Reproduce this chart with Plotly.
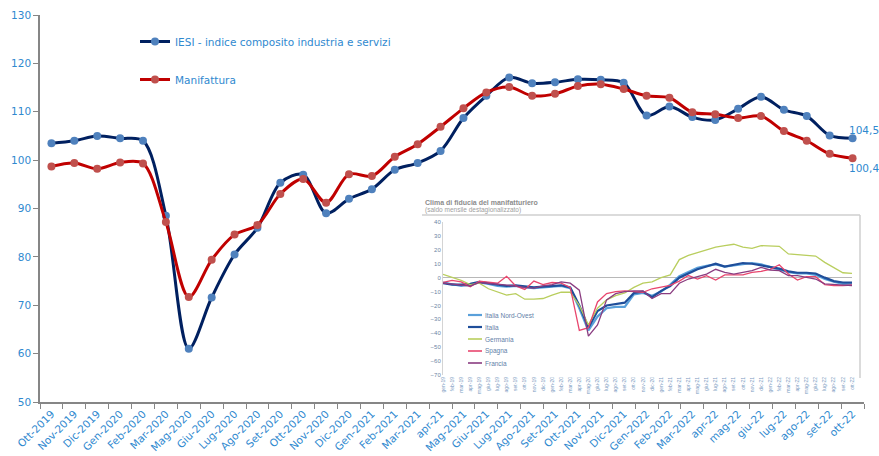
import plotly.graph_objects as go

# ---------------- main chart data ----------------
months = ["Ott-2019", "Nov-2019", "Dic-2019", "Gen-2020", "Feb-2020", "Mar-2020",
          "Mag-2020", "Giu-2020", "Lug-2020", "Ago-2020", "Set-2020", "Ott-2020",
          "Nov-2020", "Dic-2020", "Gen-2021", "Feb-2021", "Mar-2021", "apr-21",
          "Mag-2021", "Giu-2021", "Lug-2021", "Ago-2021", "Set-2021", "Ott-2021",
          "Nov-2021", "Dic-2021", "Gen-2022", "Feb-2022", "Mar-2022", "apr-22",
          "mag-22", "giu-22", "lug-22", "ago-22", "set-22", "ott-22"]

iesi = [103.5, 104.0, 105.0, 104.5, 104.0, 88.5, 61.0, 71.6, 80.5, 86.0, 95.3, 97.0,
        89.0, 92.0, 94.0, 98.0, 99.4, 101.9, 108.7, 113.3, 117.1, 115.9, 116.1, 116.7,
        116.6, 116.0, 109.2, 111.1, 108.9, 108.3, 110.6, 113.1, 110.4, 109.1, 105.1, 104.5]

manifattura = [98.7, 99.4, 98.2, 99.5, 99.3, 87.2, 71.7, 79.4, 84.6, 86.6, 93.0, 96.1,
               91.2, 97.1, 96.7, 100.7, 103.3, 106.9, 110.7, 114.0, 115.1, 113.3, 113.7, 115.3,
               115.7, 114.7, 113.3, 112.9, 109.9, 109.5, 108.7, 109.1, 106.0, 104.0, 101.3, 100.4]

end_labels = ["104,5", "100,4"]

# ---------------- inset chart data ----------------
inset_months = ["gen", "feb", "mar", "apr", "mag", "giu", "lug", "ago", "set", "ott", "nov", "dic"]
inset_labels = [m + "-" + y for y in ["19", "20", "21", "22"] for m in inset_months][:46]

italia_no = [-3.5, -4.5, -6, -5, -3.5, -4.5, -6, -6.5, -6, -7, -7.5, -7, -6.5, -6, -7.5, -22,
             -38, -28, -22, -21, -21, -12, -11, -13, -10, -5, 1, 4, 7, 8.5, 9.5, 8,
             9, 10, 10.5, 9.5, 7.5, 6, 4, 3, 3, 2, -1, -3, -4.5, -5]
italia = [-4, -5, -5, -4.5, -3, -4, -5.5, -6, -5.5, -6.5, -7, -6.5, -6, -5.5, -7, -20,
          -36, -24, -20, -19, -18, -11, -10, -14, -9.5, -6, 0, 3, 6, 8, 10, 8,
          9, 10.5, 10, 9, 8, 6.5, 4.5, 3.5, 3.5, 3, 0, -2.5, -3.5, -3.6]
germania = [2.4, 0, -2, -5, -4, -8, -10, -12.5, -11.5, -15.5, -15.5, -15, -12.5, -10.5, -10.5, -20,
            -34, -22, -16, -13, -11, -7, -4, -3, 0, 2, 13, 16, 18, 20, 22, 23,
            24, 22, 21, 23, 23, 22.5, 17, 16.5, 16, 15.5, 11, 7, 3.5, 3]
spagna = [-3.4, -2, -3, -6.5, -2.5, -3.5, -4, 1, -6, -8.5, -2.5, -5, -3.5, -4, -7, -38,
          -36, -17.5, -11.5, -10, -9.5, -10, -10.5, -8, -7, -5.5, -2.5, 1.5, -1, 1.4, -1.7, 2,
          2, 2, 3.8, 4.5, 6, 9.3, 2.6, -1.7, 0.7, 0.7, -5, -5.8, -5.8, -5.3]
francia = [-4, -4.5, -5, -6, -3.5, -4, -5, -5.5, -6, -7, -7.5, -6, -5, -3, -4, -9,
           -42, -34, -16, -11.5, -10, -9.5, -9.5, -15, -11.5, -11.5, -4, -1, 1, 2.6, 6, 3.8,
           2.6, 3.8, 5, 7.4, 5.5, 5, 1.4, 1.4, 0.2, -1, -4.5, -5, -5.5, -5.8]

inset_names = ["Italia Nord-Ovest", "Italia", "Germania", "Spagna", "Francia"]
inset_series = [italia_no, italia, germania, spagna, francia]
inset_colors = ["#5AA0DA", "#1F4E9A", "#B9CE5E", "#E8466E", "#8A3C80"]
inset_widths = [2.2, 2.2, 1.3, 1.3, 1.3]

# ---------------- geometry ----------------
W, H = 879, 456
PLOT_L, PLOT_R, PLOT_T, PLOT_B = 40, 864, 15, 402   # plot area in window pixels
L, T = PLOT_L, PLOT_T
R = W - PLOT_R
B = H - PLOT_B
PW, PH = PLOT_R - PLOT_L, PLOT_B - PLOT_T


def px(x):
    return (x - PLOT_L) / PW


def py(y):
    return (PLOT_B - y) / PH


TXT = "#2F89CF"
FONT = "DejaVu Sans"

fig = go.Figure()

fig.add_trace(go.Scatter(
    x=months, y=iesi, name="IESI - indice composito industria e servizi",
    mode="lines+markers", line=dict(color="#002060", width=3, shape="spline", smoothing=0.9),
    marker=dict(color="#4F81BD", size=8), legendgroup="a", xaxis="x", yaxis="y"))
fig.add_trace(go.Scatter(
    x=months, y=manifattura, name="Manifattura",
    mode="lines+markers", line=dict(color="#C00000", width=3, shape="spline", smoothing=0.9),
    marker=dict(color="#C0504D", size=8), legendgroup="b", xaxis="x", yaxis="y"))

xi = list(range(len(inset_labels)))
for name, vals, col, w in zip(inset_names, inset_series, inset_colors, inset_widths):
    fig.add_trace(go.Scatter(x=xi, y=vals, name=name, mode="lines",
                             line=dict(color=col, width=w), showlegend=False,
                             xaxis="x2", yaxis="y2"))

# end value labels
fig.add_annotation(x=months[-1], y=iesi[-1], text=end_labels[0], showarrow=False,
                   xanchor="left", yanchor="middle", xshift=-6, yshift=8,
                   font=dict(family=FONT, size=10.5, color=TXT))
fig.add_annotation(x=months[-1], y=manifattura[-1], text=end_labels[1], showarrow=False,
                   xanchor="left", yanchor="middle", xshift=-6, yshift=-10,
                   font=dict(family=FONT, size=10.5, color=TXT))

# inset title
fig.add_annotation(xref="paper", yref="paper", x=px(423), y=py(202), text="<b>Clima di fiducia del manifatturiero</b>",
                   showarrow=False, xanchor="left", yanchor="middle",
                   font=dict(family="Liberation Sans", size=7, color="#8c8c8c"))
fig.add_annotation(xref="paper", yref="paper", x=px(423), y=py(209.5), text="(saldo mensile destagionalizzato)",
                   showarrow=False, xanchor="left", yanchor="middle",
                   font=dict(family="Liberation Sans", size=6.5, color="#a0a0a0"))

# inset frame lines
fig.add_shape(type="line", xref="paper", yref="paper", x0=px(422), x1=px(860), y0=py(215), y1=py(215),
              line=dict(color="#cfcfcf", width=1.5))
fig.add_shape(type="line", xref="paper", yref="paper", x0=px(860), x1=px(860), y0=py(215), y1=py(378),
              line=dict(color="#cfcfcf", width=1.5))

# inset legend
for k, (name, col, w) in enumerate(zip(inset_names, inset_colors, inset_widths)):
    yy = 315 + 12 * k
    fig.add_shape(type="line", xref="paper", yref="paper", x0=px(468), x1=px(482), y0=py(yy), y1=py(yy),
                  line=dict(color=col, width=max(w, 1.6)))
    fig.add_annotation(xref="paper", yref="paper", x=px(483), y=py(yy), text=name, showarrow=False,
                       xanchor="left", yanchor="middle",
                       font=dict(family="Liberation Sans", size=6.5, color="#5f7fa8"))

fig.update_layout(
    width=W, height=H, margin=dict(l=L, r=R, t=T, b=B, autoexpand=False),
    paper_bgcolor="white", plot_bgcolor="white",
    font=dict(family=FONT, size=11, color=TXT),
    showlegend=True,
    legend=dict(x=px(135), y=py(27), xanchor="left", yanchor="top",
                bgcolor="rgba(0,0,0,0)", tracegroupgap=19,
                font=dict(family=FONT, size=10.5, color=TXT)),
    xaxis=dict(type="category", range=[-0.5, 35.5], tickson="boundaries", automargin=False,
               ticks="outside", ticklen=5, tickcolor="#868686", tickangle=-45,
               showline=True, linecolor="#868686", linewidth=1.5, showgrid=False,
               tickfont=dict(family=FONT, size=10.5, color=TXT)),
    yaxis=dict(range=[50, 130], dtick=10, ticks="outside", ticklen=5, tickcolor="#868686",
               automargin=False,
               showline=True, linecolor="#868686", linewidth=1.5, showgrid=False, zeroline=False,
               tickfont=dict(family=FONT, size=10.5, color=TXT)),
    xaxis2=dict(domain=[px(443), px(852)], anchor="y2", range=[0, 45], automargin=False,
                tickmode="array", tickvals=xi, ticktext=inset_labels, tickangle=-90,
                showline=False, showgrid=False, zeroline=False, ticks="",
                tickfont=dict(family="Liberation Sans", size=5, color="#7c9cc2")),
    yaxis2=dict(domain=[py(375), py(222)], anchor="x2", range=[-70, 40], dtick=10, automargin=False,
                showline=True, linecolor="#d4d4d4", linewidth=1, showgrid=False,
                zeroline=True, zerolinecolor="#b8b8b8", zerolinewidth=1, ticks="",
                tickfont=dict(family="Liberation Sans", size=6, color="#6d84a5")),
)

# remove the browser's default 8px body margin so the 879x456 figure fills the window
fig.write_html("out.html", config={"displayModeBar": False},
               post_script="document.body.style.margin='0';document.body.style.overflow='hidden';")
